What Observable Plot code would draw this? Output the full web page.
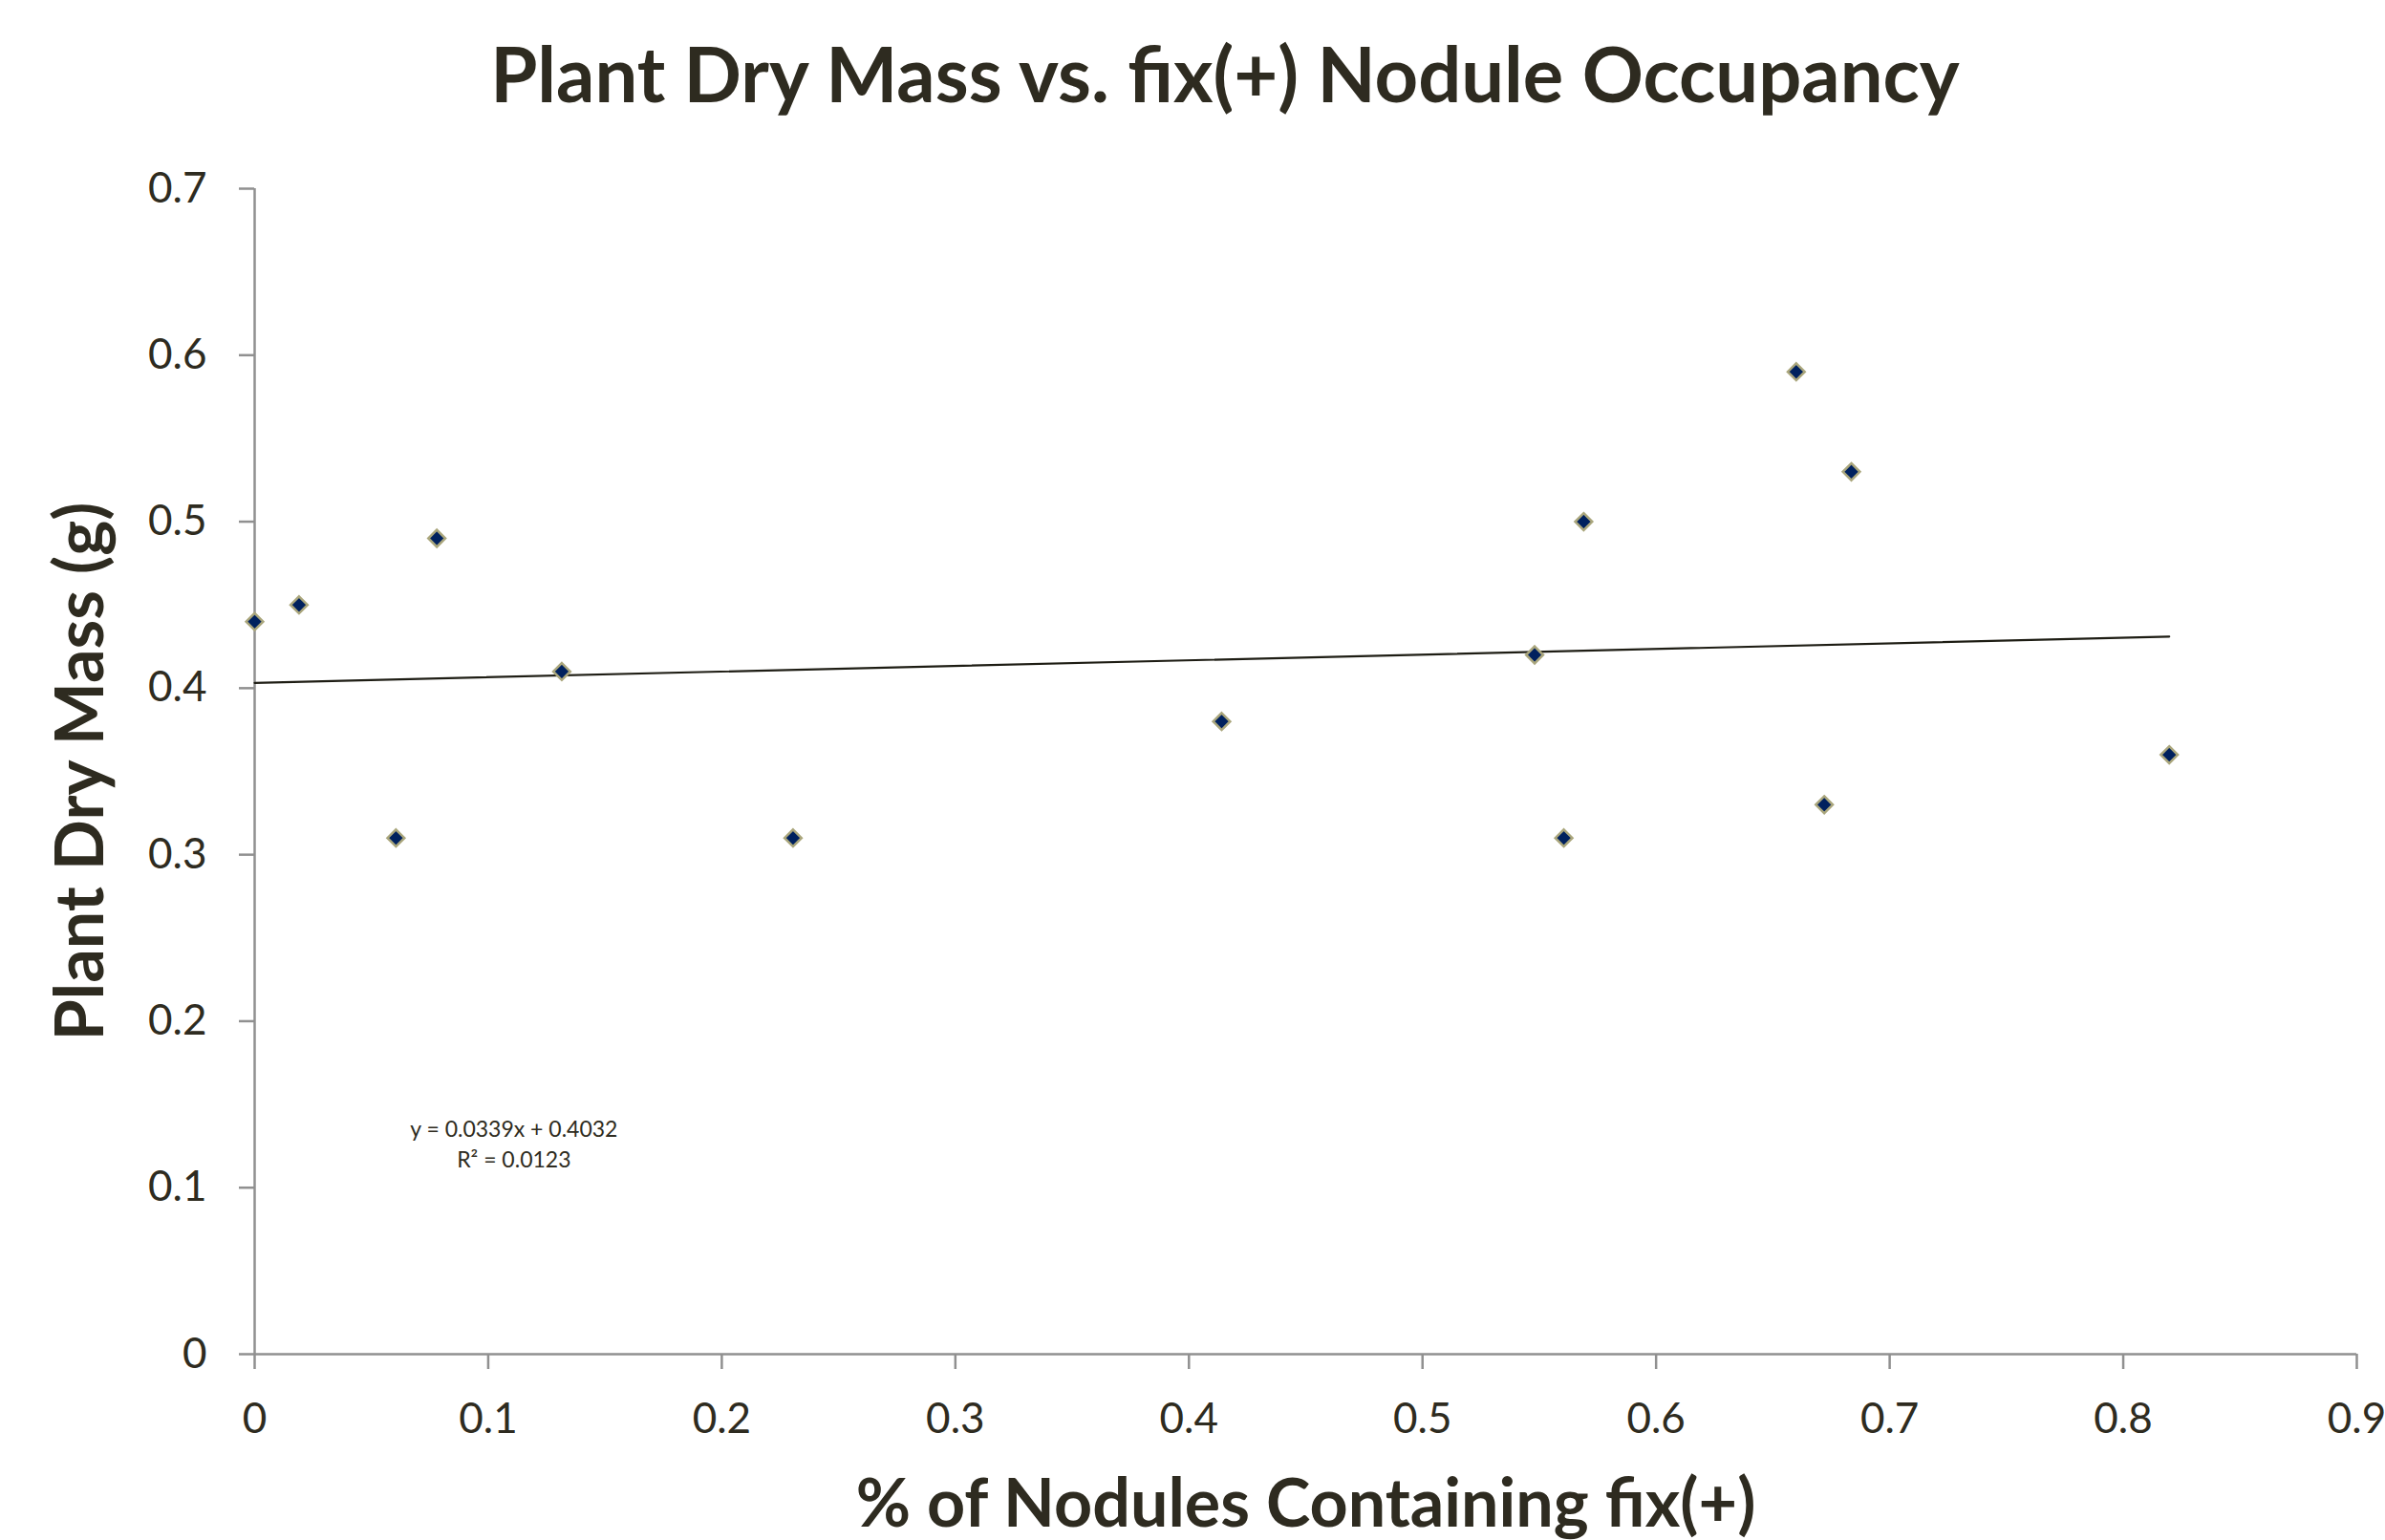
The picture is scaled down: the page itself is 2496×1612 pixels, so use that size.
<!DOCTYPE html>
<html>
<head>
<meta charset="utf-8">
<script src="https://cdn.jsdelivr.net/npm/d3@7"></script>
<script src="https://cdn.jsdelivr.net/npm/@observablehq/plot@0.6"></script>
<style>
  html, body { margin: 0; padding: 0; background: #ffffff; overflow: hidden; }
  #title {
    width: 2496px; height: 111px; padding-top: 29px;
    font-family: Lato, "Open Sans", sans-serif; font-weight: bold; font-size: 79.5px;
    line-height: 96px; color: #2e2b20; text-align: center; box-sizing: content-box;
    white-space: nowrap;
  }
  #title span { display: inline-block; position: relative; left: 34px; }
</style>
</head>
<body>
<div id="title"><span id="titleText"></span></div>
<div id="chart"></div>
<script>
// ---- data ----
const fixFraction = [0, 0.019, 0.0605, 0.078, 0.1315, 0.2305, 0.414, 0.548, 0.5605, 0.569, 0.660, 0.672, 0.6836, 0.8197];
const dryMass     = [0.44, 0.45, 0.31, 0.49, 0.41, 0.31, 0.38, 0.42, 0.31, 0.50, 0.59, 0.33, 0.53, 0.36];
const xTicks = [0, 0.1, 0.2, 0.3, 0.4, 0.5, 0.6, 0.7, 0.8, 0.9];
const yTicks = [0, 0.1, 0.2, 0.3, 0.4, 0.5, 0.6, 0.7];
const trendSlope = 0.0339;
const trendIntercept = 0.4032;
const trendR2 = "0.0123";
const chartTitle = "Plant Dry Mass vs. fix(+) Nodule Occupancy";
const xLabel = "% of Nodules Containing fix(+)";
const yLabel = "Plant Dry Mass (g)";

document.getElementById("titleText").textContent = chartTitle;

// ---- derived tables ----
const points = fixFraction.map((x, i) => ({x, y: dryMass[i]}));
const trend = d3.extent(fixFraction).map(x => ({x, y: trendSlope * x + trendIntercept}));
const equation = [`y = ${trendSlope}x + ${trendIntercept}\nR² = ${trendR2}`];

const textColor = "#2e2b20";
const axisGray = "#909090";

const plot = Plot.plot({
  width: 2496,
  height: 1472,
  marginTop: 57,
  marginBottom: 195,
  marginLeft: 266,
  marginRight: 30,
  x: {domain: [0, 0.9]},
  y: {domain: [0, 0.7]},
  style: {fontFamily: "Lato, 'Open Sans', sans-serif", background: "#ffffff", color: textColor, overflow: "visible"},
  marks: [
    Plot.ruleY([0], {stroke: axisGray, strokeWidth: 2.5}),
    Plot.ruleX([0], {stroke: axisGray, strokeWidth: 2.5}),
    Plot.axisX(xTicks, {
      tickSize: 16, tickPadding: 35, tickFormat: d => String(d),
      stroke: axisGray, strokeWidth: 2.5, fill: textColor, fontSize: 44, label: null
    }),
    Plot.axisY(yTicks, {
      tickSize: 16, tickPadding: 34, tickFormat: d => String(d),
      stroke: axisGray, strokeWidth: 2.5, fill: textColor, fontSize: 44, label: null
    }),
    Plot.line(trend, {x: "x", y: "y", stroke: "#1e1d14", strokeWidth: 2.2}),
    Plot.dot(points, {
      x: "x", y: "y", symbol: "diamond2", r: 8,
      fill: "#00215e", stroke: "#aaa67c", strokeWidth: 2.5
    }),
    Plot.text(equation, {
      x: () => 0.111, y: () => 0.112, lineAnchor: "bottom", lineHeight: 1.42,
      fontSize: 23, fill: textColor, textAnchor: "middle"
    }),
    Plot.text([xLabel], {
      frameAnchor: "bottom", dy: 180, lineAnchor: "bottom", textAnchor: "middle",
      fontSize: 70, fontWeight: "bold", fill: textColor
    }),
    Plot.text([yLabel], {
      frameAnchor: "left", dx: -159, rotate: -90, lineAnchor: "bottom", textAnchor: "middle",
      fontSize: 70, fontWeight: "bold", fill: textColor
    })
  ]
});
document.getElementById("chart").appendChild(plot);
</script>
</body>
</html>
